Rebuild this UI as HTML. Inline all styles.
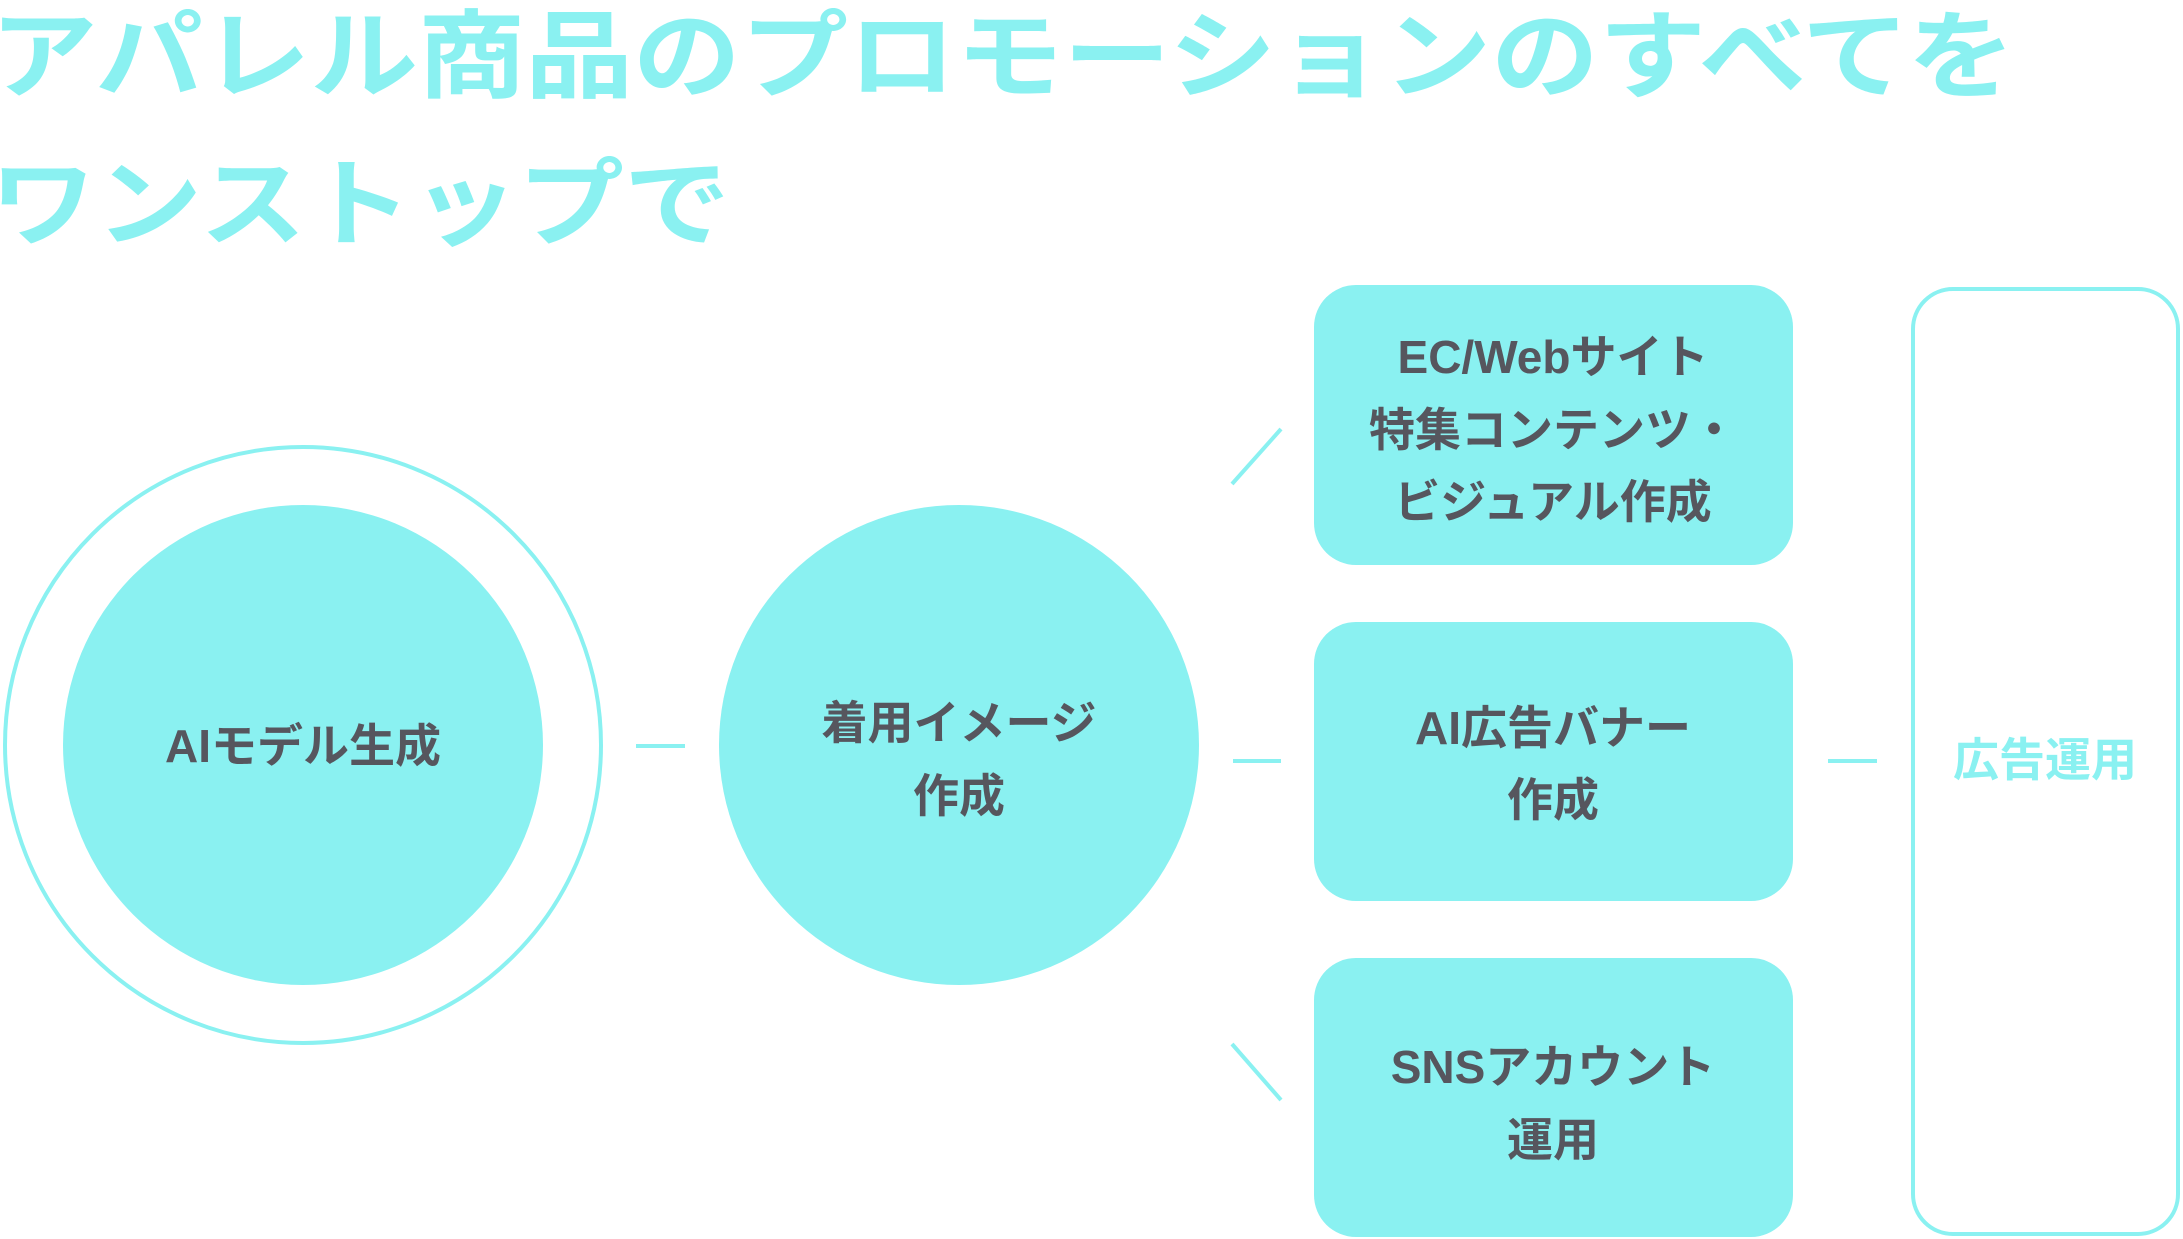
<!DOCTYPE html>
<html><head><meta charset="utf-8"><style>
html,body{margin:0;padding:0;background:#fff;}
svg{display:block;}
text{font-family:"Liberation Sans","Noto Sans CJK JP",sans-serif;font-weight:bold;}
</style></head><body>
<svg width="2183" height="1239" viewBox="0 0 2183 1239" xmlns="http://www.w3.org/2000/svg">
<g fill="#8af1f1" font-size="96">
<text x="-10" y="90" textLength="2025" lengthAdjust="spacingAndGlyphs">アパレル商品のプロモーションのすべてを</text>
<text x="-10" y="238" textLength="740" lengthAdjust="spacingAndGlyphs">ワンストップで</text>
</g>
<circle cx="303" cy="745" r="298" fill="none" stroke="#8af1f1" stroke-width="4"/>
<circle cx="303" cy="745" r="240" fill="#8af1f1"/>
<circle cx="959" cy="745" r="240" fill="#8af1f1"/>
<rect x="1314" y="285" width="479" height="280" rx="42" fill="#8af1f1"/>
<rect x="1314" y="622" width="479" height="279" rx="42" fill="#8af1f1"/>
<rect x="1314" y="958" width="479" height="279" rx="42" fill="#8af1f1"/>
<rect x="1913" y="289" width="265" height="945" rx="40" fill="none" stroke="#8af1f1" stroke-width="4"/>
<g stroke="#8af1f1" stroke-width="4">
<line x1="636" y1="746" x2="685" y2="746"/>
<line x1="1233" y1="761" x2="1281" y2="761"/>
<line x1="1828" y1="761" x2="1877" y2="761"/>
<line x1="1232" y1="484" x2="1281" y2="429"/>
<line x1="1232" y1="1044" x2="1281" y2="1100"/>
</g>
<g fill="#56565e" font-size="46" text-anchor="middle">
<text x="303" y="762">AIモデル生成</text>
<text x="959" y="739">着用イメージ</text>
<text x="959" y="812">作成</text>
<text x="1553" y="373">EC/Webサイト</text>
<text x="1553" y="446">特集コンテンツ・</text>
<text x="1553" y="518">ビジュアル作成</text>
<text x="1553" y="744">AI広告バナー</text>
<text x="1553" y="816">作成</text>
<text x="1553" y="1083">SNSアカウント</text>
<text x="1553" y="1156">運用</text>
</g>
<text x="2045" y="776" fill="#8af1f1" font-size="46" text-anchor="middle">広告運用</text>
</svg>
</body></html>
